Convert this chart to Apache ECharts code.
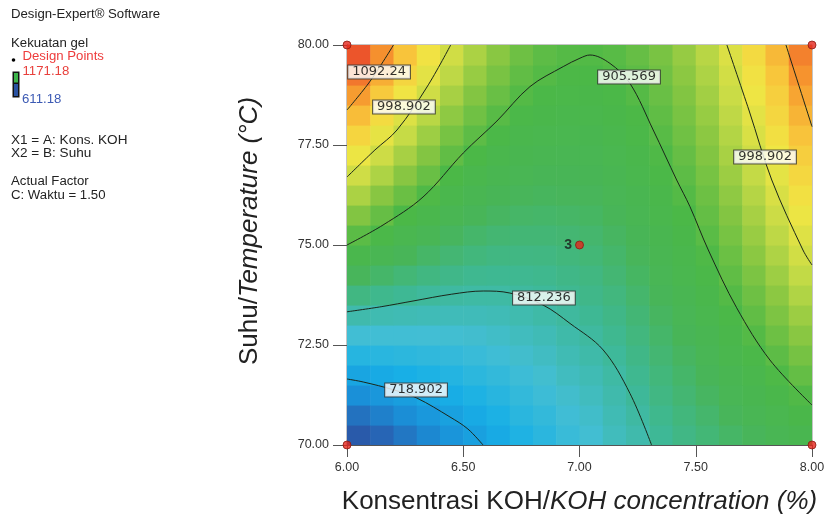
<!DOCTYPE html>
<html><head><meta charset="utf-8">
<script src="https://cdn.jsdelivr.net/npm/echarts@6/dist/echarts.min.js"></script>
<style>html,body{margin:0;padding:0;background:#fff}#c{width:826px;height:518px}</style>
</head><body><div id="c"></div>
<script>
// Cell centres of the response-surface grid
const kohCenters = [6.05,6.15,6.25,6.35,6.45,6.55,6.65,6.75,6.85,6.95,7.05,7.15,7.25,7.35,7.45,7.55,7.65,7.75,7.85,7.95];
const suhuCenters = [70.25,70.75,71.25,71.75,72.25,72.75,73.25,73.75,74.25,74.75,75.25,75.75,76.25,76.75,77.25,77.75,78.25,78.75,79.25,79.75];
// Kekuatan gel, one row per suhu centre (bottom to top), columns follow kohCenters
const kekuatan = [
 [647,663,678,693,706,720,733,747,758,771,781,795,805,819,830,840,851,859,870,879],
 [674,686,698,710,721,733,744,757,766,778,787,800,811,825,836,847,859,869,880,892],
 [700,709,718,728,736,746,755,766,775,785,794,805,817,831,843,854,867,878,891,904],
 [726,733,739,745,751,759,766,775,783,793,800,810,823,837,849,861,875,887,902,917],
 [753,756,759,763,767,771,777,785,791,800,807,816,829,843,855,868,883,896,912,929],
 [779,779,779,780,782,784,788,794,799,807,813,823,835,849,862,875,890,906,923,942],
 [805,802,800,798,797,797,799,803,808,814,820,829,841,855,868,882,898,915,934,954],
 [832,825,820,815,812,810,810,813,816,822,827,835,847,861,874,889,906,924,944,967],
 [858,849,840,833,827,823,821,822,824,829,833,842,853,867,881,896,914,933,955,979],
 [885,872,860,850,842,836,832,831,832,836,840,848,859,873,887,903,922,943,966,992],
 [911,895,880,868,856,848,843,841,841,843,846,854,865,879,893,910,930,952,976,1004],
 [937,918,900,885,871,861,854,850,849,851,853,861,871,885,899,917,938,961,987,1016],
 [964,941,921,903,885,874,865,859,857,858,859,867,877,891,906,923,946,970,998,1028],
 [990,965,941,920,900,886,876,869,865,865,866,873,883,897,912,930,954,980,1009,1040],
 [1016,988,961,938,915,899,887,878,874,872,872,880,889,903,918,937,962,989,1019,1052],
 [1043,1011,982,955,930,912,898,887,882,880,879,886,895,909,925,944,969,999,1030,1064],
 [1069,1034,1002,973,945,925,909,896,890,887,886,892,901,914,931,951,977,1008,1041,1076],
 [1095,1057,1022,990,961,938,920,906,898,894,892,898,907,920,937,958,985,1018,1051,1088],
 [1122,1081,1042,1008,976,951,931,915,906,901,899,905,912,926,944,965,993,1027,1062,1102],
 [1148,1104,1063,1025,991,964,942,924,912,907,905,909,918,931,950,972,1001,1036,1072,1115]
];
// Contour lines [KOH, Suhu]
const contour718 = [[6.0,71.65],[6.07,71.575],[6.2,71.38],[6.30,71.175],[6.443,70.7],[6.52,70.4],[6.585,70.0]];
const contour812 = [[6.0,73.33],[6.15,73.46],[6.284,73.6],[6.45,73.77],[6.586,73.85],[6.7,73.8],[6.843,73.5],[6.959,73.04],[7.102,72.375],[7.217,71.29],[7.31,70.0]];
const contour905 = [[6.0,75.0],[6.155,75.5],[6.327,76.2],[6.5,77.3],[6.645,78.1],[6.787,78.96],[6.93,79.46],[7.002,79.67],[7.045,79.75],[7.131,79.54],[7.217,79.04],[7.317,77.875],[7.418,76.625],[7.475,75.96],[7.554,74.875],[7.676,73.43],[7.819,72.125],[8.0,71.0]];
const contour998L = [[6.0,76.7],[6.12,77.375],[6.215,77.875],[6.344,78.95],[6.446,80.0]];
const contour998R = [[7.634,80.0],[7.73,78.35],[7.827,76.625],[7.961,74.875],[8.0,74.5]];
const contour1092L = [[6.0,78.375],[6.1,79.1],[6.2,80.0]];
const contour1092R = [[7.888,80.0],[8.0,77.96]];
const contourLevels = ['718.902','812.236','905.569','998.902','998.902','1092.24'];
const contourLabelAt = [[6.297,71.375],[6.847,73.675],[7.213,79.2],[6.245,78.45],[7.798,77.2],[6.138,79.325]];
// Design points
const designPoints = [[6,70],[6,80],[8,70],[8,80],[7,75]];
const designCounts = [1,1,1,1,3];
const xTicks = [6.0,6.5,7.0,7.5,8.0];
const yTicks = [70.0,72.5,75.0,77.5,80.0];

const heatData = [];
suhuCenters.forEach((b, r) => kohCenters.forEach((a, c) => heatData.push([a, b, kekuatan[r][c]])));
const dA = kohCenters[1] - kohCenters[0];
const dB = suhuCenters[1] - suhuCenters[0];

const lineColor = '#1a261a';
function contourSeries(data) {
  return {type:'line', data, smooth:0.35, symbol:'none', z:3, silent:true,
    lineStyle:{color:lineColor, width:1}};
}
const FONT = '"Liberation Sans", Arial, sans-serif';

const chart = echarts.init(document.getElementById('c'), null, {renderer:'canvas'});
chart.setOption({
  animation:false,
  backgroundColor:'#fff',
  grid:{left:347, right:14, top:45, bottom:73, show:true, borderColor:'#8a8a8a', borderWidth:1, containLabel:false, outerBoundsMode:'none'},
  xAxis:{type:'value', min:xTicks[0], max:xTicks[xTicks.length-1], interval:0.5,
    axisLine:{show:true, lineStyle:{color:'#555', width:1}},
    axisTick:{show:true, length:12, lineStyle:{color:'#555'}},
    axisLabel:{margin:16, color:'#333', fontSize:12.5, fontFamily:FONT, formatter:v=>v.toFixed(2)},
    splitLine:{show:false},
    name:'{a|Konsentrasi KOH/}{b|KOH concentration (%)}', nameLocation:'middle', nameGap:44,
    nameTextStyle:{rich:{a:{fontSize:26, fontFamily:FONT, color:'#222'}, b:{fontSize:26, fontFamily:FONT, fontStyle:'italic', color:'#222'}}}
  },
  yAxis:{type:'value', min:yTicks[0], max:yTicks[yTicks.length-1], interval:2.5,
    axisLine:{show:true, lineStyle:{color:'#555', width:1}},
    axisTick:{show:true, length:14, lineStyle:{color:'#555'}},
    axisLabel:{margin:18, color:'#333', fontSize:12.5, fontFamily:FONT, formatter:v=>v.toFixed(2)},
    splitLine:{show:false},
    name:'{a|Suhu/}{b|Temperature (°C)}', nameLocation:'middle', nameGap:84, nameRotate:90,
    nameTextStyle:{padding:[0,0,0,28], rich:{a:{fontSize:26, fontFamily:FONT, color:'#222'}, b:{fontSize:26, fontFamily:FONT, fontStyle:'italic', color:'#222'}}}
  },
  visualMap:{type:'continuous', show:false, min:620, max:1180, dimension:2, seriesIndex:0,
    inRange:{color:['#2c4a9a','#2862b2','#1a90d8','#18b0e6','#42bed4','#3eb894','#48b558','#4bb847','#86c642','#c4da46','#f0e644','#f8c83c','#f6962e','#ee5e2c','#e63228']}},
  series:[
    {type:'custom', data:heatData, z:1, silent:true, clip:true,
      renderItem:function(params, api){
        const c = api.coord([api.value(0), api.value(1)]);
        const s = api.size([dA, dB]);
        return {type:'rect', shape:{x:c[0]-s[0]/2, y:c[1]-s[1]/2, width:s[0]+0.6, height:s[1]+0.6},
          style:{fill:api.visual('color')}};
      }},
    contourSeries(contour718),
    contourSeries(contour812),
    contourSeries(contour905),
    contourSeries(contour998L),
    contourSeries(contour998R),
    contourSeries(contour1092L),
    contourSeries(contour1092R),
    {type:'scatter', z:5, silent:true, symbolSize:1, itemStyle:{color:'rgba(0,0,0,0)'},
      data:contourLevels.map((t,i)=>({name:t, value:contourLabelAt[i]})),
      label:{show:true, position:'inside', formatter:'{b}', color:'#000', fontSize:13, fontFamily:'"DejaVu Sans", sans-serif',
        backgroundColor:'#fff', borderColor:'#333', borderWidth:1, padding:[1,4,0,4], lineHeight:12}},
    {type:'scatter', z:6, silent:true, symbol:'circle', symbolSize:8, clip:false,
      itemStyle:{color:'#e5261c', borderColor:'#8c1a12', borderWidth:1},
      data:designPoints.map((p,i)=>({value:p, count:designCounts[i]})),
      label:{show:true, position:'left', distance:3, color:'#1a1a1a', fontSize:14, fontWeight:'bold', fontFamily:FONT,
        formatter:p=> designCounts[p.dataIndex] > 1 ? String(designCounts[p.dataIndex]) : ''}}
  ],
  graphic:[
    {type:'text', x:11, y:15, scaleX:1.1, style:{text:'Design-Expert® Software', font:'12px '+FONT, fill:'#222', verticalAlign:'middle'}},
    {type:'text', x:11, y:44, scaleX:1.1, style:{text:'Kekuatan gel', font:'12px '+FONT, fill:'#222', verticalAlign:'middle'}},
    {type:'circle', shape:{cx:13.5, cy:60, r:1.8}, style:{fill:'#000'}},
    {type:'text', x:22.5, y:57, scaleX:1.1, style:{text:'Design Points', font:'12px '+FONT, fill:'#ee3b3b', verticalAlign:'middle'}},
    {type:'text', x:22.5, y:71.5, scaleX:1.1, style:{text:'1171.18', font:'12px '+FONT, fill:'#e8403c', verticalAlign:'middle'}},
    {type:'rect', shape:{x:12.5, y:71.5, width:7, height:26}, style:{fill:'#111'}},
    {type:'rect', shape:{x:14, y:73, width:4, height:9.5}, style:{fill:'#3cb44a'}},
    {type:'rect', shape:{x:14, y:84, width:4, height:12}, style:{fill:'#2a52a2'}},
    {type:'text', x:22, y:99.5, scaleX:1.1, style:{text:'611.18', font:'12px '+FONT, fill:'#3c5ab4', verticalAlign:'middle'}},
    {type:'text', x:11, y:141, scaleX:1.13, style:{text:'X1 = A: Kons. KOH', font:'12px '+FONT, fill:'#222', verticalAlign:'middle'}},
    {type:'text', x:11, y:154, scaleX:1.13, style:{text:'X2 = B: Suhu', font:'12px '+FONT, fill:'#222', verticalAlign:'middle'}},
    {type:'text', x:11, y:182, scaleX:1.1, style:{text:'Actual Factor', font:'12px '+FONT, fill:'#222', verticalAlign:'middle'}},
    {type:'text', x:11, y:196, scaleX:1.1, style:{text:'C: Waktu = 1.50', font:'12px '+FONT, fill:'#222', verticalAlign:'middle'}}
  ]
});
</script></body></html>
